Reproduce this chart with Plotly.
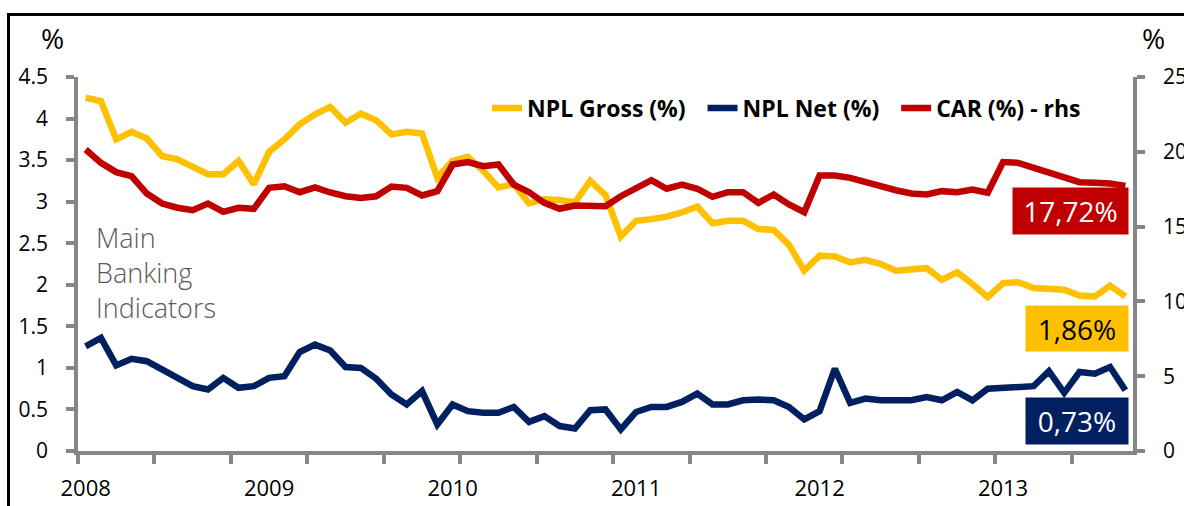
import plotly.graph_objects as go

# ---------------- data (monthly, Jan 2008 - Sep 2013) ----------------
year_labels = ["2008", "2009", "2010", "2011", "2012", "2013"]
year_positions = [0, 12, 24, 36, 48, 60]

npl_gross = [4.25, 4.21, 3.75, 3.84, 3.76, 3.55, 3.51, 3.43, 3.33, 3.33, 3.49, 3.21,
             3.60, 3.75, 3.93, 4.05, 4.14, 3.95, 4.06, 3.98, 3.81, 3.84, 3.82, 3.29,
             3.49, 3.54, 3.37, 3.17, 3.21, 2.98, 3.03, 3.02, 2.99, 3.25, 3.08, 2.58,
             2.77, 2.79, 2.82, 2.87, 2.94, 2.74, 2.77, 2.77, 2.67, 2.66, 2.48, 2.17,
             2.35, 2.34, 2.27, 2.30, 2.25, 2.17, 2.18, 2.20, 2.06, 2.15, 2.01, 1.85,
             2.02, 2.03, 1.96, 1.95, 1.94, 1.87, 1.86, 1.99, 1.86]

npl_net = [1.26, 1.36, 1.03, 1.11, 1.08, 0.98, 0.90, 0.78, 0.74, 0.88, 0.76, 0.78,
           0.88, 0.90, 1.19, 1.28, 1.21, 1.01, 1.00, 0.87, 0.68, 0.56, 0.72, 0.32,
           0.56, 0.48, 0.46, 0.46, 0.53, 0.35, 0.42, 0.30, 0.27, 0.49, 0.50, 0.26,
           0.47, 0.53, 0.53, 0.59, 0.69, 0.56, 0.56, 0.61, 0.62, 0.61, 0.53, 0.38,
           0.48, 0.99, 0.58, 0.63, 0.61, 0.61, 0.61, 0.65, 0.61, 0.71, 0.61, 0.75,
           0.76, 0.78, 0.78, 0.96, 0.70, 0.95, 0.93, 1.01, 0.73]

car = [20.15, 19.26, 18.64, 18.37, 17.21, 16.54, 16.26, 16.10, 16.54, 15.99, 16.26, 16.19,
       17.59, 17.70, 17.30, 17.62, 17.28, 17.03, 16.92, 17.03, 17.68, 17.59, 17.08, 17.37,
       19.15, 19.31, 19.04, 19.15, 17.81, 17.30, 16.59, 16.19, 16.41, 16.36, 16.36, 17.03,
       17.59, 18.10, 17.53, 17.81, 17.53, 16.99, 17.30, 17.30, 16.59, 17.15, 16.48, 15.96,
       18.42, 18.42, 18.26, 17.93, 17.70, 17.43, 17.21, 17.15, 17.37, 17.30, 17.48, 17.26,
       19.31, 19.26, 18.93, 18.60, 18.33, 17.97, 17.93, 17.88, 17.72]

series_names = ["NPL Gross (%)", "NPL Net (%)", "CAR (%) - rhs"]
last_labels = ["17,72%", "1,86%", "0,73%"]

x = list(range(len(npl_gross)))

YELLOW = "#FFC000"
NAVY = "#002060"
RED = "#C00000"
AXIS = "#868686"
FONT = "Open Sans"
PAD = "\u00a0\u00a0"  # extra spacing after legend entries

fig = go.Figure()
fig.add_trace(go.Scatter(x=x, y=npl_gross, name=series_names[0] + PAD, mode="lines",
                         line=dict(color=YELLOW, width=6.5)))
fig.add_trace(go.Scatter(x=x, y=npl_net, name=series_names[1] + PAD, mode="lines",
                         line=dict(color=NAVY, width=6.5)))
fig.add_trace(go.Scatter(x=x, y=car, name=series_names[2], mode="lines", yaxis="y2",
                         line=dict(color=RED, width=6.5)))

L, R, T, B = 78, 51, 77, 55
W, H = 1184, 506
pw, ph = W - L - R, H - T - B


def px(xp):
    return (xp - L) / pw


def py(yp):
    return (H - B - yp) / ph


fig.update_layout(
    width=W, height=H,
    margin=dict(l=L, r=R, t=T, b=B, autoexpand=False),
    paper_bgcolor="white", plot_bgcolor="white",
    font=dict(family=FONT, color="#000000"),
    showlegend=True,
    legend=dict(orientation="h", x=px(487), y=py(108), xanchor="left", yanchor="middle",
                bgcolor="rgba(0,0,0,0)", font=dict(family=FONT, size=23, weight="bold", color="#000000"),
                itemwidth=30, traceorder="normal"),
    xaxis=dict(range=[-0.5, len(x) - 0.5], showgrid=False, zeroline=False,
               showline=True, linecolor=AXIS, linewidth=3.5,
               tickmode="array", tickvals=year_positions, ticktext=year_labels,
               ticks="", ticklabelstandoff=15,
               tickfont=dict(family=FONT, size=22, color="#000000"),
               minor=dict(tick0=-0.5, dtick=5, ticks="outside", ticklen=9, tickwidth=3.5,
                          tickcolor=AXIS, showgrid=False)),
    yaxis=dict(range=[0, 4.5], dtick=0.5, showgrid=False, zeroline=False,
               showline=True, linecolor=AXIS, linewidth=3.5,
               ticks="outside", ticklen=8, tickwidth=3.5, tickcolor=AXIS,
               ticklabelstandoff=14,
               tickfont=dict(family=FONT, size=21, color="#000000")),
    yaxis2=dict(range=[0, 25], dtick=5, overlaying="y", side="right", showgrid=False,
                zeroline=False, showline=True, linecolor=AXIS, linewidth=3.5,
                ticks="outside", ticklen=8, tickwidth=3.5, tickcolor=AXIS,
                ticklabelstandoff=14,
                tickfont=dict(family=FONT, size=21, color="#000000")),
)

ann = []
# axis unit titles
ann.append(dict(text="%", xref="paper", yref="paper", x=px(52), y=py(38), showarrow=False,
                xanchor="center", yanchor="middle", font=dict(family=FONT, size=28, color="#000000")))
ann.append(dict(text="%", xref="paper", yref="paper", x=px(1153), y=py(38), showarrow=False,
                xanchor="center", yanchor="middle", font=dict(family=FONT, size=28, color="#000000")))
# chart caption
ann.append(dict(text="Main<br>Banking<br>Indicators", xref="paper", yref="paper",
                x=px(94), y=py(272), showarrow=False, xanchor="left", yanchor="middle",
                align="left", font=dict(family=FONT, size=27, weight=300, color="#595959")))
# last-value boxes
boxes = [
    (last_labels[0], RED, "#FFFFFF", 1014, 1129, 188, 234),
    (last_labels[1], YELLOW, "#000000", 1027, 1129, 306, 351),
    (last_labels[2], NAVY, "#FFFFFF", 1027, 1129, 398, 444),
]
for txt, bg, fc, x0, x1, y0, y1 in boxes:
    ann.append(dict(text=txt, xref="paper", yref="paper", x=px(x1), y=py((y0 + y1) / 2),
                    showarrow=False, xanchor="right", yanchor="middle",
                    width=x1 - x0, height=y1 - y0, bgcolor=bg, borderpad=0, align="center",
                    valign="middle", font=dict(family=FONT, size=28, color=fc)))
fig.update_layout(annotations=ann)

# outer frame
fig.add_shape(type="rect", xref="paper", yref="paper",
              x0=px(8.5), x1=px(1200), y0=py(530), y1=py(14.5),
              line=dict(color="#000000", width=3), fillcolor="rgba(0,0,0,0)", layer="below")

fig.write_html("out.html", config={"displayModeBar": False},
               post_script="document.body.style.margin='0px';")
